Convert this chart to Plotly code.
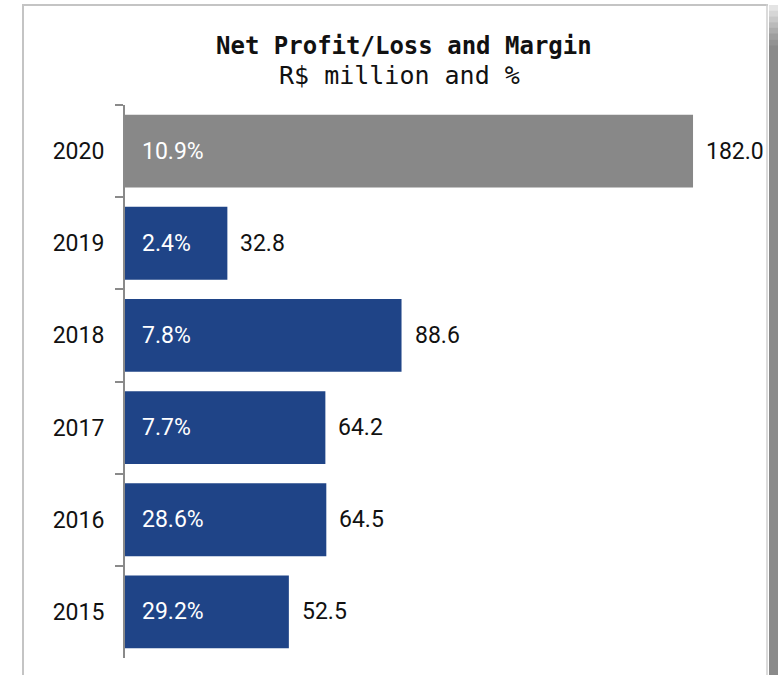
import plotly.graph_objects as go

years = ["2020", "2019", "2018", "2017", "2016", "2015"]
values = [182.0, 32.8, 88.6, 64.2, 64.5, 52.5]
margins = ["10.9%", "2.4%", "7.8%", "7.7%", "28.6%", "29.2%"]
value_labels = ["182.0", "32.8", "88.6", "64.2", "64.5", "52.5"]
bar_colors = ["#888888", "#1f4487", "#1f4487", "#1f4487", "#1f4487", "#1f4487"]

W, H = 778, 675
L, R, T, B = 125, 11, 105, 17
pw, ph = W - L - R, H - T - B

def px(x):
    return (x - L) / pw

def py(y):
    return (H - B - y) / ph

fig = go.Figure()
fig.add_trace(go.Bar(
    y=years, x=values, orientation="h",
    marker=dict(color=bar_colors, line=dict(width=0)),
    hoverinfo="skip",
))

annotations = []
for i, (v, m, vl) in enumerate(zip(values, margins, value_labels)):
    annotations.append(dict(x=0, y=i, xref="x", yref="y", text=m, showarrow=False,
                            xanchor="left", xshift=15,
                            font=dict(family="Roboto", size=23, color="white")))
    annotations.append(dict(x=v, y=i, xref="x", yref="y", text=vl, showarrow=False,
                            xanchor="left", xshift=11,
                            font=dict(family="Roboto", size=23, color="#111111")))

annotations.append(dict(x=px(404), y=py(46), xref="paper", yref="paper",
                        text="<b>Net Profit/Loss and Margin</b>", showarrow=False,
                        xanchor="center", yanchor="middle",
                        font=dict(family="DejaVu Sans Mono", size=24, color="#111111")))
annotations.append(dict(x=px(399), y=py(75), xref="paper", yref="paper",
                        text="R$ million and %", showarrow=False,
                        xanchor="center", yanchor="middle",
                        font=dict(family="DejaVu Sans Mono", size=25, color="#111111")))

shapes = [
    dict(type="line", xref="paper", yref="paper", x0=px(23), x1=px(23), y0=py(4), y1=py(680),
         line=dict(color="#c4c4c4", width=2)),
    dict(type="line", xref="paper", yref="paper", x0=px(22), x1=px(768), y0=py(5), y1=py(5),
         line=dict(color="#c4c4c4", width=2)),
    dict(type="line", xref="paper", yref="paper", x0=px(767), x1=px(767), y0=py(4), y1=py(680),
         line=dict(color="#cfcfcf", width=1.5)),
    dict(type="rect", xref="paper", yref="paper", x0=px(769), x1=px(790), y0=py(45), y1=py(680),
         fillcolor="#8a8a8a", line=dict(width=0), layer="above"),
]
grad = ["#e4e4e4", "#d6d6d6", "#c8c8c8", "#bababa", "#acacac", "#9e9e9e", "#939393"]
for k, c in enumerate(grad):
    y0 = 5 + k * 40 / len(grad)
    y1 = 5 + (k + 1) * 40 / len(grad)
    shapes.append(dict(type="rect", xref="paper", yref="paper", x0=px(769), x1=px(790),
                       y0=py(y0), y1=py(y1 + 0.5), fillcolor=c, line=dict(width=0), layer="above"))

fig.update_layout(
    width=W, height=H,
    margin=dict(l=L, r=R, t=T, b=B, pad=0),
    paper_bgcolor="white", plot_bgcolor="white",
    bargap=0.21,
    showlegend=False,
    annotations=annotations,
    shapes=shapes,
    xaxis=dict(range=[0, 205.7], visible=False, fixedrange=True),
    yaxis=dict(
        type="category", categoryorder="array", categoryarray=years, autorange="reversed",
        showline=True, linecolor="#8a8a8a", linewidth=2,
        ticks="outside", tickson="boundaries", ticklen=8, tickwidth=2, tickcolor="#8a8a8a",
        ticklabelstandoff=14,
        tickfont=dict(family="Roboto", size=23, color="#111111"),
        showgrid=False, zeroline=False, fixedrange=True,
    ),
)

fig.write_html("out.html", config={"displayModeBar": False},
               post_script="document.body.style.margin='0';document.body.style.overflow='hidden';")
